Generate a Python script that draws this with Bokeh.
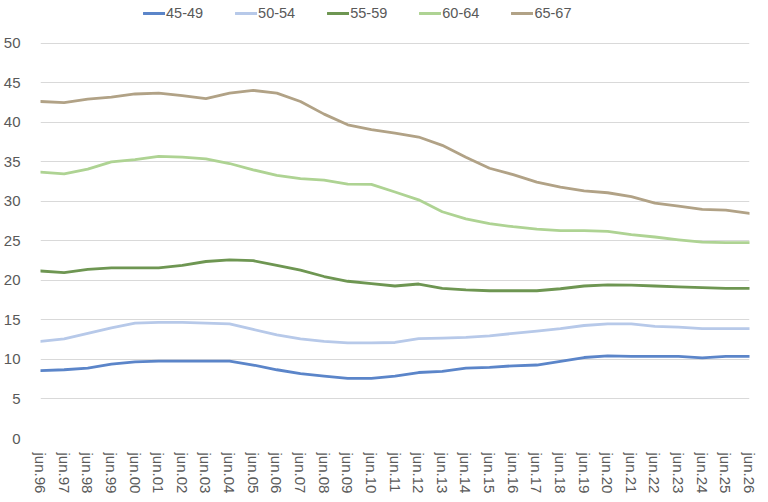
from bokeh.plotting import figure
from bokeh.models import Range1d, FixedTicker, Legend, LegendItem
from bokeh.embed import file_html
from bokeh.resources import INLINE

labels = ["jun.%02d" % (y % 100) for y in range(1996, 2027)]

s45_49 = [8.6, 8.7, 8.9, 9.4, 9.7, 9.8, 9.8, 9.8, 9.8, 9.3, 8.7, 8.2, 7.9, 7.6, 7.6, 7.9,
          8.35, 8.5, 8.9, 9.0, 9.2, 9.3, 9.75, 10.25, 10.45, 10.4, 10.4, 10.4, 10.2, 10.4, 10.4]
s50_54 = [12.3, 12.6, 13.3, 14.0, 14.6, 14.7, 14.7, 14.6, 14.5, 13.8, 13.1, 12.6, 12.3, 12.1, 12.1, 12.15,
          12.65, 12.7, 12.8, 13.0, 13.3, 13.6, 13.9, 14.3, 14.5, 14.5, 14.2, 14.1, 13.9, 13.9, 13.9]
s55_59 = [21.2, 21.0, 21.4, 21.6, 21.6, 21.6, 21.9, 22.4, 22.6, 22.5, 21.9, 21.3, 20.5, 19.9, 19.6, 19.3,
          19.55, 19.0, 18.8, 18.7, 18.7, 18.7, 18.95, 19.3, 19.45, 19.4, 19.3, 19.2, 19.1, 19.0, 19.0]
s60_64 = [33.7, 33.5, 34.1, 35.0, 35.3, 35.7, 35.6, 35.4, 34.8, 34.0, 33.3, 32.9, 32.7, 32.2, 32.15, 31.2,
          30.2, 28.7, 27.8, 27.2, 26.8, 26.5, 26.3, 26.3, 26.2, 25.8, 25.5, 25.15, 24.85, 24.8, 24.8]
s65_67 = [42.65, 42.5, 42.95, 43.2, 43.6, 43.7, 43.4, 43.0, 43.7, 44.05, 43.7, 42.65, 41.05, 39.7, 39.1, 38.65,
          38.15, 37.1, 35.6, 34.2, 33.4, 32.45, 31.8, 31.35, 31.1, 30.6, 29.8, 29.4, 29.0, 28.9, 28.5]

series_names = ["45-49", "50-54", "55-59", "60-64", "65-67"]
series_values = [s45_49, s50_54, s55_59, s60_64, s65_67]
series_colors = ["#5B85C9", "#B7C9E9", "#6E9652", "#AED393", "#B1A286"]

y_ticks = list(range(0, 51, 5))
x = list(range(len(labels)))

# extra headroom above 50 holds the legend inside the frame
p = figure(width=758, height=496, output_backend="svg", toolbar_location=None,
           x_range=Range1d(0, len(labels) - 1), y_range=Range1d(0, 55.43),
           min_border_left=32, min_border_right=9, min_border_top=0, min_border_bottom=57)
p.outline_line_color = None
p.background_fill_color = "white"
p.border_fill_color = "white"

font = "Liberation Sans"
for ax in (p.xaxis[0], p.yaxis[0]):
    ax.axis_line_color = None
    ax.major_tick_line_color = None
    ax.minor_tick_line_color = None
    ax.major_label_text_font = font
    ax.major_label_text_font_size = "15px"
    ax.major_label_text_color = "#595959"

p.yaxis.ticker = FixedTicker(ticks=y_ticks)
p.yaxis.major_label_standoff = 14
p.xaxis.ticker = FixedTicker(ticks=x)
p.xaxis.major_label_overrides = {i: lab for i, lab in enumerate(labels)}
p.xaxis.major_label_orientation = "vertical"
p.xaxis.major_label_standoff = 8

p.xgrid.grid_line_color = None
p.ygrid.ticker = FixedTicker(ticks=y_ticks)
p.ygrid.grid_line_color = "#D9D9D9"
p.ygrid.grid_line_width = 1.2

items = []
for name, vals, col in zip(series_names, series_values, series_colors):
    r = p.line(x, vals, line_color=col, line_width=2.8, line_join="round", line_cap="round")
    items.append(LegendItem(label=name, renderers=[r]))

legend = Legend(items=items, orientation="horizontal", location=(103, 417),
                background_fill_alpha=0, border_line_color=None,
                padding=0, margin=0, spacing=32, glyph_width=22, glyph_height=16,
                label_height=16, label_standoff=1,
                label_text_font=font, label_text_font_size="14.5px", label_text_color="#595959")
p.add_layout(legend, "center")

open("out.html", "w").write(file_html(p, INLINE))
